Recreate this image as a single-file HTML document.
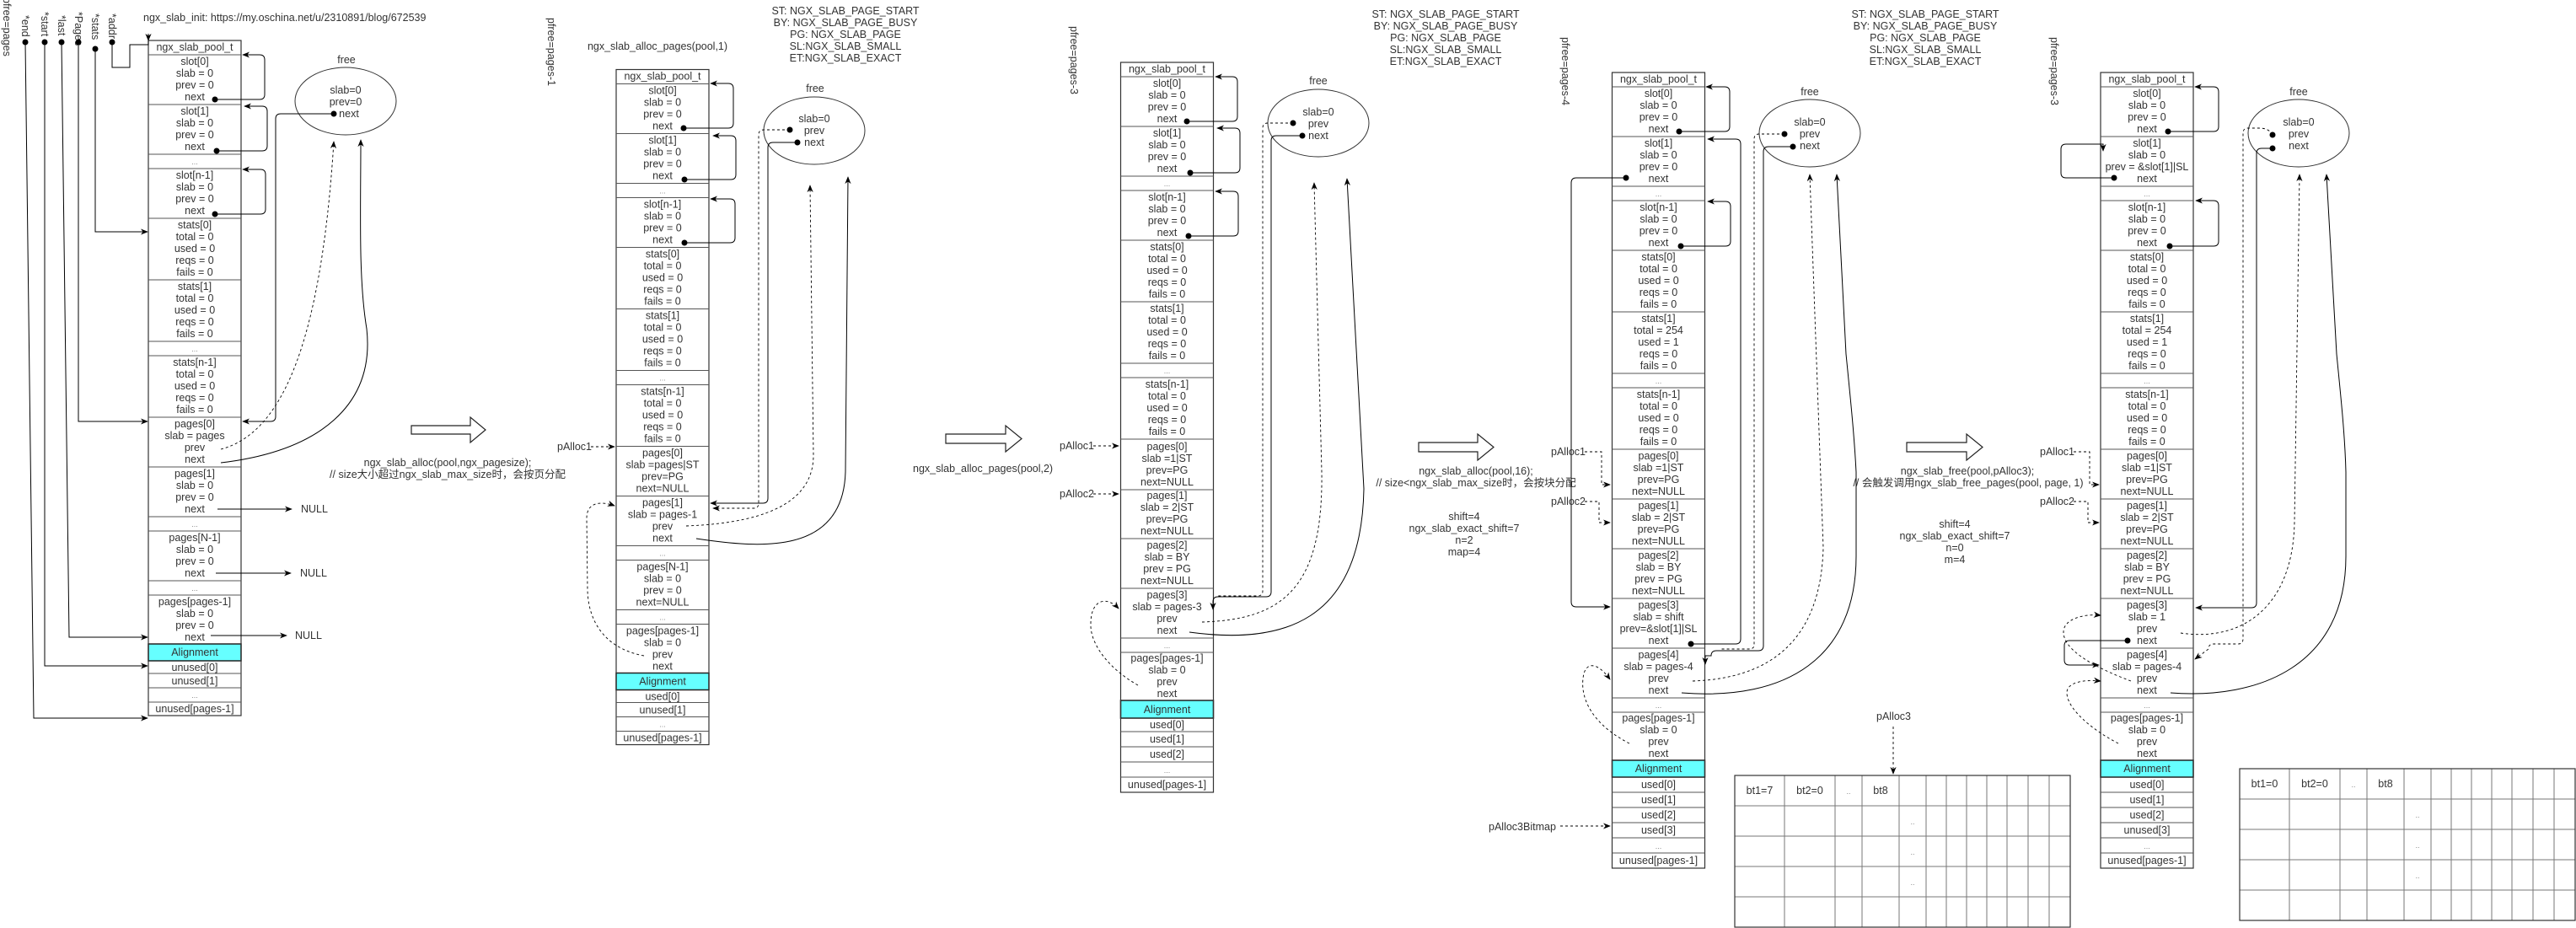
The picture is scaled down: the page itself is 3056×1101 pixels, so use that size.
<!DOCTYPE html>
<html><head><meta charset="utf-8"><style>
html,body{margin:0;padding:0;background:#fff;}
svg{display:block;}
.t{font-family:"Liberation Sans","Noto Sans CJK SC",sans-serif;font-size:12.5px;fill:#333;text-anchor:middle;}
.l{font-family:"Liberation Sans","Noto Sans CJK SC",sans-serif;font-size:12.5px;fill:#333;}
.d{font-family:"Liberation Sans",sans-serif;font-size:9px;fill:#888;text-anchor:middle;}
.c{fill:none;stroke:#000;stroke-width:1;}
.ds{fill:none;stroke:#000;stroke-width:0.9;stroke-dasharray:3 3;}
.rl{fill:none;stroke:#555;stroke-width:1;}
.tb{fill:none;stroke:#777;stroke-width:1;}
</style></head><body>
<svg width="3056" height="1101" viewBox="0 0 3056 1101" xmlns="http://www.w3.org/2000/svg">
<defs>
<marker id="a" viewBox="0 0 10 10" refX="9" refY="5" markerWidth="9" markerHeight="9" markerUnits="userSpaceOnUse" orient="auto"><path d="M0,1 L10,5 L0,9 L3,5z" fill="#000"/></marker>
</defs>
<rect width="3056" height="1101" fill="#fff"/>

<!-- ============ COLUMN 1 ============ -->
<g transform="translate(176,0)">
<rect x="0" y="764" width="110" height="20" fill="#66ffff" stroke="#222" stroke-width="1.5"/>
<rect x="0" y="48" width="110" height="801" fill="none" stroke="#333" stroke-width="1.2"/>
<path class="rl" d="M0,65H110M0,124H110M0,183H110M0,200H110M0,259H110M0,332H110M0,405H110M0,422H110M0,495H110M0,554H110M0,613H110M0,630H110M0,689H110M0,706H110M0,799H110M0,816H110M0,833H110"/>
<text class="t" x="55" y="60">ngx_slab_pool_t</text>
<text class="t" y="77"><tspan x="55">slot[0]</tspan><tspan x="55" dy="14">slab  = 0</tspan><tspan x="55" dy="14">prev = 0</tspan><tspan x="55" dy="14">next</tspan></text>
<text class="t" y="136"><tspan x="55">slot[1]</tspan><tspan x="55" dy="14">slab  = 0</tspan><tspan x="55" dy="14">prev = 0</tspan><tspan x="55" dy="14">next</tspan></text>
<text class="d" x="55" y="195">...</text>
<text class="t" y="212"><tspan x="55">slot[n-1]</tspan><tspan x="55" dy="14">slab  = 0</tspan><tspan x="55" dy="14">prev = 0</tspan><tspan x="55" dy="14">next</tspan></text>
<text class="t" y="271"><tspan x="55">stats[0]</tspan><tspan x="55" dy="14">total = 0</tspan><tspan x="55" dy="14">used = 0</tspan><tspan x="55" dy="14">reqs = 0</tspan><tspan x="55" dy="14">fails = 0</tspan></text>
<text class="t" y="344"><tspan x="55">stats[1]</tspan><tspan x="55" dy="14">total = 0</tspan><tspan x="55" dy="14">used = 0</tspan><tspan x="55" dy="14">reqs = 0</tspan><tspan x="55" dy="14">fails = 0</tspan></text>
<text class="d" x="55" y="417">...</text>
<text class="t" y="434"><tspan x="55">stats[n-1]</tspan><tspan x="55" dy="14">total = 0</tspan><tspan x="55" dy="14">used = 0</tspan><tspan x="55" dy="14">reqs = 0</tspan><tspan x="55" dy="14">fails = 0</tspan></text>
<text class="t" y="507"><tspan x="55">pages[0]</tspan><tspan x="55" dy="14">slab  = pages</tspan><tspan x="55" dy="14">prev</tspan><tspan x="55" dy="14">next</tspan></text>
<text class="t" y="566"><tspan x="55">pages[1]</tspan><tspan x="55" dy="14">slab  = 0</tspan><tspan x="55" dy="14">prev = 0</tspan><tspan x="55" dy="14">next</tspan></text>
<text class="d" x="55" y="625">...</text>
<text class="t" y="642"><tspan x="55">pages[N-1]</tspan><tspan x="55" dy="14">slab  = 0</tspan><tspan x="55" dy="14">prev = 0</tspan><tspan x="55" dy="14">next</tspan></text>
<text class="d" x="55" y="701">...</text>
<text class="t" y="718"><tspan x="55">pages[pages-1]</tspan><tspan x="55" dy="14">slab  = 0</tspan><tspan x="55" dy="14">prev = 0</tspan><tspan x="55" dy="14">next</tspan></text>
<text class="t" x="55" y="778">Alignment</text>
<text class="t" x="55" y="796">unused[0]</text>
<text class="t" x="55" y="812">unused[1]</text>
<text class="d" x="55" y="828">...</text>
<text class="t" x="55" y="845">unused[pages-1]</text>
</g>
<text class="l" x="170" y="25">ngx_slab_init: https://my.oschina.net/u/2310891/blog/672539</text>
<text class="l" transform="translate(4,-3) rotate(90)">pfree=pages</text>
<text class="l" transform="translate(26,18) rotate(90)">*end</text>
<text class="l" transform="translate(49,14) rotate(90)">*start</text>
<text class="l" transform="translate(69,18) rotate(90)">*last</text>
<text class="l" transform="translate(89,14) rotate(90)">*Pages</text>
<text class="l" transform="translate(109,16) rotate(90)">*stats</text>
<text class="l" transform="translate(129,16) rotate(90)">*addr</text>
<g fill="#000"><circle cx="30" cy="50" r="3.5"/><circle cx="53" cy="50" r="3.5"/><circle cx="73" cy="50" r="3.5"/><circle cx="93" cy="50" r="3.5"/><circle cx="113" cy="58" r="3.5"/><circle cx="133" cy="50" r="3.5"/></g>
<path class="c" d="M133,50V80H154V53H176V40" />
<path class="c" d="M176,40V48" marker-end="url(#a)"/>
<path class="c" d="M113,58V275H175" marker-end="url(#a)"/>
<path class="c" d="M93,50V500H175" marker-end="url(#a)"/>
<path class="c" d="M73,50L82,756H175" marker-end="url(#a)"/>
<path class="c" d="M53,50V790H175" marker-end="url(#a)"/>
<path class="c" d="M30,50L40,852H175" marker-end="url(#a)"/>
<g fill="#000"><circle cx="255" cy="118" r="3.5"/><circle cx="257" cy="179" r="3.5"/><circle cx="255" cy="254" r="3.5"/><circle cx="396" cy="135" r="3.5"/></g>
<path class="c" d="M255,118H308Q314,118 314,112V71Q314,65 308,65H288" marker-end="url(#a)"/>
<path class="c" d="M257,179H311Q317,179 317,173V132Q317,126 311,126H290" marker-end="url(#a)"/>
<path class="c" d="M255,254H309Q315,254 315,248V207Q315,201 309,201H288" marker-end="url(#a)"/>
<ellipse cx="410" cy="120" rx="60" ry="40" fill="none" stroke="#333"/>
<text class="t" x="411" y="75">free</text>
<text class="t" y="111"><tspan x="410">slab=0</tspan><tspan x="410" dy="14">prev=0</tspan><tspan x="414" dy="14">next</tspan></text>
<path class="c" d="M396,135H333Q327,135 327,141V494Q327,500 321,500H288" marker-end="url(#a)"/>
<path class="ds" d="M262,533C330,515 380,420 396,168" marker-end="url(#a)"/>
<path class="c" d="M262,549C380,535 445,480 435,390C425,330 428,250 428,166" marker-end="url(#a)"/>
<path class="c" d="M258,604H346" marker-end="url(#a)"/><text class="l" x="357" y="608">NULL</text>
<path class="c" d="M256,680H345" marker-end="url(#a)"/><text class="l" x="356" y="684">NULL</text>
<path class="c" d="M250,754H340" marker-end="url(#a)"/><text class="l" x="350" y="758">NULL</text>

<g fill="#fff" stroke="#222" stroke-width="1.2">
<polygon points="488,505 558,505 558,495 576,510 558,525 558,515 488,515"/>
<polygon points="1122,515 1193,515 1193,505 1212,520.5 1193,536 1193,526 1122,526"/>
<polygon points="1683,525 1753,525 1753,515 1772,530.5 1753,546 1753,536 1683,536"/>
<polygon points="2262,525 2333,525 2333,515 2352,530.5 2333,546 2333,536 2262,536"/>
</g>
<text class="t" x="531" y="553">ngx_slab_alloc(pool,ngx_pagesize);</text>
<text class="t" x="531" y="567">// size大小超过ngx_slab_max_size时，会按页分配</text>

<!-- ============ COLUMN 2 ============ -->
<g transform="translate(731,34.5)">
<rect x="0" y="764" width="110" height="20" fill="#66ffff" stroke="#222" stroke-width="1.5"/>
<rect x="0" y="48" width="110" height="801" fill="none" stroke="#333" stroke-width="1.2"/>
<path class="rl" d="M0,65H110M0,124H110M0,183H110M0,200H110M0,259H110M0,332H110M0,405H110M0,422H110M0,495H110M0,554H110M0,613H110M0,630H110M0,689H110M0,706H110M0,799H110M0,816H110M0,833H110"/>
<text class="t" x="55" y="60">ngx_slab_pool_t</text>
<text class="t" y="77"><tspan x="55">slot[0]</tspan><tspan x="55" dy="14">slab  = 0</tspan><tspan x="55" dy="14">prev = 0</tspan><tspan x="55" dy="14">next</tspan></text>
<text class="t" y="136"><tspan x="55">slot[1]</tspan><tspan x="55" dy="14">slab  = 0</tspan><tspan x="55" dy="14">prev = 0</tspan><tspan x="55" dy="14">next</tspan></text>
<text class="d" x="55" y="195">...</text>
<text class="t" y="212"><tspan x="55">slot[n-1]</tspan><tspan x="55" dy="14">slab  = 0</tspan><tspan x="55" dy="14">prev = 0</tspan><tspan x="55" dy="14">next</tspan></text>
<text class="t" y="271"><tspan x="55">stats[0]</tspan><tspan x="55" dy="14">total = 0</tspan><tspan x="55" dy="14">used = 0</tspan><tspan x="55" dy="14">reqs = 0</tspan><tspan x="55" dy="14">fails = 0</tspan></text>
<text class="t" y="344"><tspan x="55">stats[1]</tspan><tspan x="55" dy="14">total = 0</tspan><tspan x="55" dy="14">used = 0</tspan><tspan x="55" dy="14">reqs = 0</tspan><tspan x="55" dy="14">fails = 0</tspan></text>
<text class="d" x="55" y="417">...</text>
<text class="t" y="434"><tspan x="55">stats[n-1]</tspan><tspan x="55" dy="14">total = 0</tspan><tspan x="55" dy="14">used = 0</tspan><tspan x="55" dy="14">reqs = 0</tspan><tspan x="55" dy="14">fails = 0</tspan></text>
<text class="t" y="507"><tspan x="55">pages[0]</tspan><tspan x="55" dy="14">slab =pages|ST</tspan><tspan x="55" dy="14">prev=PG</tspan><tspan x="55" dy="14">next=NULL</tspan></text>
<text class="t" y="566"><tspan x="55">pages[1]</tspan><tspan x="55" dy="14">slab  = pages-1</tspan><tspan x="55" dy="14">prev</tspan><tspan x="55" dy="14">next</tspan></text>
<text class="d" x="55" y="625">...</text>
<text class="t" y="642"><tspan x="55">pages[N-1]</tspan><tspan x="55" dy="14">slab  = 0</tspan><tspan x="55" dy="14">prev = 0</tspan><tspan x="55" dy="14">next=NULL</tspan></text>
<text class="d" x="55" y="701">...</text>
<text class="t" y="718"><tspan x="55">pages[pages-1]</tspan><tspan x="55" dy="14">slab  = 0</tspan><tspan x="55" dy="14">prev</tspan><tspan x="55" dy="14">next</tspan></text>
<text class="t" x="55" y="778">Alignment</text>
<text class="t" x="55" y="796">used[0]</text>
<text class="t" x="55" y="812">unused[1]</text>
<text class="d" x="55" y="828">...</text>
<text class="t" x="55" y="845">unused[pages-1]</text>
</g>
<text class="t" x="780" y="59">ngx_slab_alloc_pages(pool,1)</text>
<text class="l" transform="translate(650,21) rotate(90)">pfree=pages-1</text>
<text class="t" y="17"><tspan x="1003">ST: NGX_SLAB_PAGE_START</tspan><tspan x="1003" dy="14">BY: NGX_SLAB_PAGE_BUSY</tspan><tspan x="1003" dy="14">PG: NGX_SLAB_PAGE</tspan><tspan x="1003" dy="14">SL:NGX_SLAB_SMALL</tspan><tspan x="1003" dy="14">ET:NGX_SLAB_EXACT</tspan></text>
<g fill="#000"><circle cx="811" cy="152" r="3.5"/><circle cx="812" cy="213" r="3.5"/><circle cx="812" cy="288" r="3.5"/><circle cx="937" cy="154" r="3.5"/><circle cx="946" cy="169" r="3.5"/></g>
<path class="c" d="M811,152H864Q870,152 870,146V105Q870,99 864,99H843" marker-end="url(#a)"/>
<path class="c" d="M812,213H867Q873,213 873,207V167Q873,161 867,161H846" marker-end="url(#a)"/>
<path class="c" d="M812,288H866Q872,288 872,282V242Q872,236 866,236H843" marker-end="url(#a)"/>
<ellipse cx="966" cy="155" rx="60" ry="40" fill="none" stroke="#333"/>
<text class="t" x="967" y="109">free</text>
<text class="t" y="145"><tspan x="966">slab=0</tspan><tspan x="966" dy="14">prev</tspan><tspan x="966" dy="14">next</tspan></text>
<path class="ds" d="M937,154H906Q900,154 900,160V597Q900,603 894,603H846" marker-end="url(#a)"/>
<path class="c" d="M946,169H917Q911,169 911,175V591Q911,597 905,597H843" marker-end="url(#a)"/>
<path class="ds" d="M814,624C920,620 965,590 965,540L961,220" marker-end="url(#a)"/>
<path class="c" d="M826,639C900,650 1000,660 1003,560L1006,210" marker-end="url(#a)"/>
<path class="ds" d="M764,778C720,770 698,740 697,700L696,615C696,596 712,594 729,600" marker-end="url(#a)"/>
<text class="l" x="661" y="534">pAlloc1</text>
<path class="ds" d="M701,530H729" marker-end="url(#a)"/>
<text class="l" x="1083" y="560">ngx_slab_alloc_pages(pool,2)</text>

<!-- ============ COLUMN 3 ============ -->
<g transform="translate(1329.5,26)">
<rect x="0" y="805" width="110" height="21" fill="#66ffff" stroke="#222" stroke-width="1.5"/>
<rect x="0" y="48" width="110" height="866" fill="none" stroke="#333" stroke-width="1.2"/>
<path class="rl" d="M0,65H110M0,124H110M0,183H110M0,200H110M0,259H110M0,332H110M0,405H110M0,422H110M0,495H110M0,555H110M0,613H110M0,672H110M0,731H110M0,748H110M0,842H110M0,860H110M0,878H110M0,896H110"/>
<text class="t" x="55" y="60">ngx_slab_pool_t</text>
<text class="t" y="77"><tspan x="55">slot[0]</tspan><tspan x="55" dy="14">slab  = 0</tspan><tspan x="55" dy="14">prev = 0</tspan><tspan x="55" dy="14">next</tspan></text>
<text class="t" y="136"><tspan x="55">slot[1]</tspan><tspan x="55" dy="14">slab  = 0</tspan><tspan x="55" dy="14">prev = 0</tspan><tspan x="55" dy="14">next</tspan></text>
<text class="d" x="55" y="195">...</text>
<text class="t" y="212"><tspan x="55">slot[n-1]</tspan><tspan x="55" dy="14">slab  = 0</tspan><tspan x="55" dy="14">prev = 0</tspan><tspan x="55" dy="14">next</tspan></text>
<text class="t" y="271"><tspan x="55">stats[0]</tspan><tspan x="55" dy="14">total = 0</tspan><tspan x="55" dy="14">used = 0</tspan><tspan x="55" dy="14">reqs = 0</tspan><tspan x="55" dy="14">fails = 0</tspan></text>
<text class="t" y="344"><tspan x="55">stats[1]</tspan><tspan x="55" dy="14">total = 0</tspan><tspan x="55" dy="14">used = 0</tspan><tspan x="55" dy="14">reqs = 0</tspan><tspan x="55" dy="14">fails = 0</tspan></text>
<text class="d" x="55" y="417">...</text>
<text class="t" y="434"><tspan x="55">stats[n-1]</tspan><tspan x="55" dy="14">total = 0</tspan><tspan x="55" dy="14">used = 0</tspan><tspan x="55" dy="14">reqs = 0</tspan><tspan x="55" dy="14">fails = 0</tspan></text>
<text class="t" y="508"><tspan x="55">pages[0]</tspan><tspan x="55" dy="14">slab =1|ST</tspan><tspan x="55" dy="14">prev=PG</tspan><tspan x="55" dy="14">next=NULL</tspan></text>
<text class="t" y="566"><tspan x="55">pages[1]</tspan><tspan x="55" dy="14">slab  = 2|ST</tspan><tspan x="55" dy="14">prev=PG</tspan><tspan x="55" dy="14">next=NULL</tspan></text>
<text class="t" y="625"><tspan x="55">pages[2]</tspan><tspan x="55" dy="14">slab  = BY</tspan><tspan x="55" dy="14">prev = PG</tspan><tspan x="55" dy="14">next=NULL</tspan></text>
<text class="t" y="684"><tspan x="55">pages[3]</tspan><tspan x="55" dy="14">slab  = pages-3</tspan><tspan x="55" dy="14">prev</tspan><tspan x="55" dy="14">next</tspan></text>
<text class="d" x="55" y="743">...</text>
<text class="t" y="759"><tspan x="55">pages[pages-1]</tspan><tspan x="55" dy="14">slab  = 0</tspan><tspan x="55" dy="14">prev</tspan><tspan x="55" dy="14">next</tspan></text>
<text class="t" x="55" y="820">Alignment</text>
<text class="t" x="55" y="838">used[0]</text>
<text class="t" x="55" y="855">used[1]</text>
<text class="t" x="55" y="873">used[2]</text>
<text class="d" x="55" y="891">...</text>
<text class="t" x="55" y="909">unused[pages-1]</text>
</g>
<text class="l" transform="translate(1270,31) rotate(90)">pfree=pages-3</text>
<text class="t" y="21"><tspan x="1715">ST: NGX_SLAB_PAGE_START</tspan><tspan x="1715" dy="14">BY: NGX_SLAB_PAGE_BUSY</tspan><tspan x="1715" dy="14">PG: NGX_SLAB_PAGE</tspan><tspan x="1715" dy="14">SL:NGX_SLAB_SMALL</tspan><tspan x="1715" dy="14">ET:NGX_SLAB_EXACT</tspan></text>
<g fill="#000"><circle cx="1408" cy="144" r="3.5"/><circle cx="1412" cy="205" r="3.5"/><circle cx="1410" cy="280" r="3.5"/><circle cx="1534" cy="146" r="3.5"/><circle cx="1545" cy="161" r="3.5"/></g>
<path class="c" d="M1408,144H1462Q1468,144 1468,138V97Q1468,91 1462,91H1442" marker-end="url(#a)"/>
<path class="c" d="M1412,205H1465Q1471,205 1471,199V158Q1471,152 1465,152H1444" marker-end="url(#a)"/>
<path class="c" d="M1410,280H1463Q1469,280 1469,274V233Q1469,227 1463,227H1442" marker-end="url(#a)"/>
<ellipse cx="1564" cy="146" rx="60" ry="40" fill="none" stroke="#333"/>
<text class="t" x="1564" y="100">free</text>
<text class="t" y="137"><tspan x="1564">slab=0</tspan><tspan x="1564" dy="14">prev</tspan><tspan x="1564" dy="14">next</tspan></text>
<path class="ds" d="M1534,146H1504Q1498,146 1498,152V701Q1498,707 1492,707H1445"/>
<path class="c" d="M1545,161H1514Q1508,161 1508,167V702Q1508,708 1502,708H1445Q1439,708 1439,714V723" marker-end="url(#a)"/>
<path class="ds" d="M1426,738C1520,735 1570,700 1568,560L1559,217" marker-end="url(#a)"/>
<path class="c" d="M1411,750C1520,765 1615,740 1618,580L1598,212" marker-end="url(#a)"/>
<path class="ds" d="M1350,813C1310,790 1293,760 1294,740C1294,712 1312,706 1327,722" marker-end="url(#a)"/>
<text class="l" x="1257" y="533">pAlloc1</text>
<path class="ds" d="M1297,529H1327" marker-end="url(#a)"/>
<text class="l" x="1257" y="590">pAlloc2</text>
<path class="ds" d="M1297,586H1327" marker-end="url(#a)"/>
<text class="t" x="1751" y="563">ngx_slab_alloc(pool,16);</text>
<text class="t" x="1751" y="577">// size&lt;ngx_slab_max_size时，会按块分配</text>
<text class="t" y="617"><tspan x="1737">shift=4</tspan><tspan x="1737" dy="14">ngx_slab_exact_shift=7</tspan><tspan x="1737" dy="14">n=2</tspan><tspan x="1737" dy="14">map=4</tspan></text>

<!-- ============ COLUMN 4 ============ -->
<g transform="translate(1912.5,38)">
<rect x="0" y="864" width="110" height="20" fill="#66ffff" stroke="#222" stroke-width="1.5"/>
<rect x="0" y="48" width="110" height="944" fill="none" stroke="#333" stroke-width="1.2"/>
<path class="rl" d="M0,65H110M0,124H110M0,183H110M0,200H110M0,259H110M0,332H110M0,405H110M0,422H110M0,495H110M0,554H110M0,613H110M0,672H110M0,731H110M0,790H110M0,807H110M0,902H110M0,920H110M0,938H110M0,956H110M0,974H110"/>
<text class="t" x="55" y="60">ngx_slab_pool_t</text>
<text class="t" y="77"><tspan x="55">slot[0]</tspan><tspan x="55" dy="14">slab  = 0</tspan><tspan x="55" dy="14">prev = 0</tspan><tspan x="55" dy="14">next</tspan></text>
<text class="t" y="136"><tspan x="55">slot[1]</tspan><tspan x="55" dy="14">slab  = 0</tspan><tspan x="55" dy="14">prev = 0</tspan><tspan x="55" dy="14">next</tspan></text>
<text class="d" x="55" y="195">...</text>
<text class="t" y="212"><tspan x="55">slot[n-1]</tspan><tspan x="55" dy="14">slab  = 0</tspan><tspan x="55" dy="14">prev = 0</tspan><tspan x="55" dy="14">next</tspan></text>
<text class="t" y="271"><tspan x="55">stats[0]</tspan><tspan x="55" dy="14">total = 0</tspan><tspan x="55" dy="14">used = 0</tspan><tspan x="55" dy="14">reqs = 0</tspan><tspan x="55" dy="14">fails = 0</tspan></text>
<text class="t" y="344"><tspan x="55">stats[1]</tspan><tspan x="55" dy="14">total = 254</tspan><tspan x="55" dy="14">used = 1</tspan><tspan x="55" dy="14">reqs = 0</tspan><tspan x="55" dy="14">fails = 0</tspan></text>
<text class="d" x="55" y="417">...</text>
<text class="t" y="434"><tspan x="55">stats[n-1]</tspan><tspan x="55" dy="14">total = 0</tspan><tspan x="55" dy="14">used = 0</tspan><tspan x="55" dy="14">reqs = 0</tspan><tspan x="55" dy="14">fails = 0</tspan></text>
<text class="t" y="507"><tspan x="55">pages[0]</tspan><tspan x="55" dy="14">slab =1|ST</tspan><tspan x="55" dy="14">prev=PG</tspan><tspan x="55" dy="14">next=NULL</tspan></text>
<text class="t" y="566"><tspan x="55">pages[1]</tspan><tspan x="55" dy="14">slab  = 2|ST</tspan><tspan x="55" dy="14">prev=PG</tspan><tspan x="55" dy="14">next=NULL</tspan></text>
<text class="t" y="625"><tspan x="55">pages[2]</tspan><tspan x="55" dy="14">slab  = BY</tspan><tspan x="55" dy="14">prev = PG</tspan><tspan x="55" dy="14">next=NULL</tspan></text>
<text class="t" y="684"><tspan x="55">pages[3]</tspan><tspan x="55" dy="14">slab  = shift</tspan><tspan x="55" dy="14">prev=&amp;slot[1]|SL</tspan><tspan x="55" dy="14">next</tspan></text>
<text class="t" y="743"><tspan x="55">pages[4]</tspan><tspan x="55" dy="14">slab  = pages-4</tspan><tspan x="55" dy="14">prev</tspan><tspan x="55" dy="14">next</tspan></text>
<text class="d" x="55" y="802">...</text>
<text class="t" y="818"><tspan x="55">pages[pages-1]</tspan><tspan x="55" dy="14">slab  = 0</tspan><tspan x="55" dy="14">prev</tspan><tspan x="55" dy="14">next</tspan></text>
<text class="t" x="55" y="878">Alignment</text>
<text class="t" x="55" y="897">used[0]</text>
<text class="t" x="55" y="915">used[1]</text>
<text class="t" x="55" y="933">used[2]</text>
<text class="t" x="55" y="951">used[3]</text>
<text class="d" x="55" y="969">...</text>
<text class="t" x="55" y="987">unused[pages-1]</text>
</g>
<text class="l" transform="translate(1853,44) rotate(90)">pfree=pages-4</text>
<text class="t" y="21"><tspan x="2284">ST: NGX_SLAB_PAGE_START</tspan><tspan x="2284" dy="14">BY: NGX_SLAB_PAGE_BUSY</tspan><tspan x="2284" dy="14">PG: NGX_SLAB_PAGE</tspan><tspan x="2284" dy="14">SL:NGX_SLAB_SMALL</tspan><tspan x="2284" dy="14">ET:NGX_SLAB_EXACT</tspan></text>
<g fill="#000"><circle cx="1992" cy="156" r="3.5"/><circle cx="1929" cy="211" r="3.5"/><circle cx="1994" cy="292" r="3.5"/><circle cx="2006" cy="764" r="3.5"/><circle cx="2117" cy="159" r="3.5"/><circle cx="2127" cy="174" r="3.5"/></g>
<path class="c" d="M1992,156H2046Q2052,156 2052,150V109Q2052,103 2046,103H2024" marker-end="url(#a)"/>
<path class="c" d="M2006,764H2059Q2065,764 2065,758V171Q2065,165 2059,165H2026" marker-end="url(#a)"/>
<path class="c" d="M1994,292H2047Q2053,292 2053,286V245Q2053,239 2047,239H2026" marker-end="url(#a)"/>
<path class="c" d="M1929,211H1870Q1864,211 1864,217V714Q1864,720 1870,720H1910" marker-end="url(#a)"/>
<ellipse cx="2147" cy="158" rx="60" ry="40" fill="none" stroke="#333"/>
<text class="t" x="2147" y="113">free</text>
<text class="t" y="149"><tspan x="2147">slab=0</tspan><tspan x="2147" dy="14">prev</tspan><tspan x="2147" dy="14">next</tspan></text>
<path class="ds" d="M2117,159H2087Q2081,159 2081,165V765Q2081,770 2075,770H2040"/>
<path class="c" d="M2127,174H2098Q2092,174 2092,180V766Q2092,772 2086,772H2036Q2030,772 2030,778H2023V788" marker-end="url(#a)"/>
<path class="ds" d="M2008,808C2100,805 2160,760 2163,650L2147,207" marker-end="url(#a)"/>
<path class="c" d="M1995,822C2120,832 2202,780 2202,660L2202,560C2200,520 2196,480 2190,420L2179,207" marker-end="url(#a)"/>
<path class="ds" d="M1933,882C1890,860 1875,830 1878,805C1880,784 1895,785 1910,806" marker-end="url(#a)"/>
<text class="l" x="1840" y="540">pAlloc1</text>
<path class="ds" d="M1880,536H1900V575H1910" marker-end="url(#a)"/>
<text class="l" x="1840" y="599">pAlloc2</text>
<path class="ds" d="M1880,595H1897V620H1910" marker-end="url(#a)"/>
<text class="l" x="2226" y="854">pAlloc3</text>
<path class="ds" d="M2246,862V918" marker-end="url(#a)"/>
<text class="l" x="1766" y="985">pAlloc3Bitmap</text>
<path class="ds" d="M1851,980H1910" marker-end="url(#a)"/>
<text class="t" x="2334" y="563">ngx_slab_free(pool,pAlloc3);</text>
<text class="t" x="2335" y="577">// 会触发调用ngx_slab_free_pages(pool, page, 1)</text>
<text class="t" y="626"><tspan x="2319">shift=4</tspan><tspan x="2319" dy="14">ngx_slab_exact_shift=7</tspan><tspan x="2319" dy="14">n=0</tspan><tspan x="2319" dy="14">m=4</tspan></text>

<g transform="translate(2058,920)">
<path class="tb" d="M59,0V180M119,0V180M151,0V180M195,0V180M227,0V180M251,0V180M275,0V180M299,0V180M323,0V180M348,0V180M373,0V180M0,36H398M0,72H398M0,108H398M0,144H398"/>
<rect x="0" y="0" width="398" height="180" fill="none" stroke="#333" stroke-width="1.2"/>
<text class="t" x="29.5" y="22">bt1=7</text><text class="t" x="89" y="22">bt2=0</text><text class="d" x="135" y="22">..</text><text class="t" x="173" y="22">bt8</text>
<text class="d" x="211" y="58">..</text><text class="d" x="211" y="94">..</text><text class="d" x="211" y="130">..</text>
</g>

<!-- ============ COLUMN 5 ============ -->
<g transform="translate(2492,38)">
<rect x="0" y="864" width="110" height="20" fill="#66ffff" stroke="#222" stroke-width="1.5"/>
<rect x="0" y="48" width="110" height="944" fill="none" stroke="#333" stroke-width="1.2"/>
<path class="rl" d="M0,65H110M0,124H110M0,183H110M0,200H110M0,259H110M0,332H110M0,405H110M0,422H110M0,495H110M0,554H110M0,613H110M0,672H110M0,731H110M0,790H110M0,807H110M0,902H110M0,920H110M0,938H110M0,956H110M0,974H110"/>
<text class="t" x="55" y="60">ngx_slab_pool_t</text>
<text class="t" y="77"><tspan x="55">slot[0]</tspan><tspan x="55" dy="14">slab  = 0</tspan><tspan x="55" dy="14">prev = 0</tspan><tspan x="55" dy="14">next</tspan></text>
<text class="t" y="136"><tspan x="55">slot[1]</tspan><tspan x="55" dy="14">slab  = 0</tspan><tspan x="55" dy="14">prev = &amp;slot[1]|SL</tspan><tspan x="55" dy="14">next</tspan></text>
<text class="d" x="55" y="195">...</text>
<text class="t" y="212"><tspan x="55">slot[n-1]</tspan><tspan x="55" dy="14">slab  = 0</tspan><tspan x="55" dy="14">prev = 0</tspan><tspan x="55" dy="14">next</tspan></text>
<text class="t" y="271"><tspan x="55">stats[0]</tspan><tspan x="55" dy="14">total = 0</tspan><tspan x="55" dy="14">used = 0</tspan><tspan x="55" dy="14">reqs = 0</tspan><tspan x="55" dy="14">fails = 0</tspan></text>
<text class="t" y="344"><tspan x="55">stats[1]</tspan><tspan x="55" dy="14">total = 254</tspan><tspan x="55" dy="14">used = 1</tspan><tspan x="55" dy="14">reqs = 0</tspan><tspan x="55" dy="14">fails = 0</tspan></text>
<text class="d" x="55" y="417">...</text>
<text class="t" y="434"><tspan x="55">stats[n-1]</tspan><tspan x="55" dy="14">total = 0</tspan><tspan x="55" dy="14">used = 0</tspan><tspan x="55" dy="14">reqs = 0</tspan><tspan x="55" dy="14">fails = 0</tspan></text>
<text class="t" y="507"><tspan x="55">pages[0]</tspan><tspan x="55" dy="14">slab =1|ST</tspan><tspan x="55" dy="14">prev=PG</tspan><tspan x="55" dy="14">next=NULL</tspan></text>
<text class="t" y="566"><tspan x="55">pages[1]</tspan><tspan x="55" dy="14">slab  = 2|ST</tspan><tspan x="55" dy="14">prev=PG</tspan><tspan x="55" dy="14">next=NULL</tspan></text>
<text class="t" y="625"><tspan x="55">pages[2]</tspan><tspan x="55" dy="14">slab  = BY</tspan><tspan x="55" dy="14">prev = PG</tspan><tspan x="55" dy="14">next=NULL</tspan></text>
<text class="t" y="684"><tspan x="55">pages[3]</tspan><tspan x="55" dy="14">slab  = 1</tspan><tspan x="55" dy="14">prev</tspan><tspan x="55" dy="14">next</tspan></text>
<text class="t" y="743"><tspan x="55">pages[4]</tspan><tspan x="55" dy="14">slab  = pages-4</tspan><tspan x="55" dy="14">prev</tspan><tspan x="55" dy="14">next</tspan></text>
<text class="d" x="55" y="802">...</text>
<text class="t" y="818"><tspan x="55">pages[pages-1]</tspan><tspan x="55" dy="14">slab  = 0</tspan><tspan x="55" dy="14">prev</tspan><tspan x="55" dy="14">next</tspan></text>
<text class="t" x="55" y="878">Alignment</text>
<text class="t" x="55" y="897">used[0]</text>
<text class="t" x="55" y="915">used[1]</text>
<text class="t" x="55" y="933">used[2]</text>
<text class="t" x="55" y="951">unused[3]</text>
<text class="d" x="55" y="969">...</text>
<text class="t" x="55" y="987">unused[pages-1]</text>
</g>
<text class="l" transform="translate(2433,44) rotate(90)">pfree=pages-3</text>
<g fill="#000"><circle cx="2572" cy="156" r="3.5"/><circle cx="2508" cy="211" r="3.5"/><circle cx="2574" cy="292" r="3.5"/><circle cx="2524" cy="760" r="3.5"/><circle cx="2696" cy="160" r="3.5"/><circle cx="2696" cy="176" r="3.5"/></g>
<path class="c" d="M2572,156H2626Q2632,156 2632,150V109Q2632,103 2626,103H2604" marker-end="url(#a)"/>
<path class="c" d="M2508,211H2451Q2445,211 2445,205V177Q2445,171 2451,171H2495V179" marker-end="url(#a)"/>
<path class="c" d="M2574,292H2626Q2632,292 2632,286V244Q2632,238 2626,238H2605" marker-end="url(#a)"/>
<ellipse cx="2727" cy="158" rx="60" ry="40" fill="none" stroke="#333"/>
<text class="t" x="2727" y="113">free</text>
<text class="t" y="149"><tspan x="2727">slab=0</tspan><tspan x="2727" dy="14">prev</tspan><tspan x="2727" dy="14">next</tspan></text>
<path class="ds" d="M2696,160Q2692,152 2680,152H2667Q2661,152 2661,158V758Q2661,764 2655,764H2626Q2620,764 2620,770L2604,782" marker-end="url(#a)"/>
<path class="c" d="M2696,176H2683Q2677,176 2677,182V715Q2677,721 2671,721H2605" marker-end="url(#a)"/>
<path class="c" d="M2524,760H2455Q2449,760 2449,766V783Q2449,789 2455,789H2490" marker-end="url(#a)"/>
<path class="ds" d="M2528,808C2480,790 2448,770 2448,750C2448,735 2470,728 2492,730" marker-end="url(#a)"/>
<path class="ds" d="M2513,882C2480,865 2452,840 2452,822C2452,810 2470,806 2492,808" marker-end="url(#a)"/>
<path class="ds" d="M2587,751C2660,762 2720,720 2722,620L2728,207" marker-end="url(#a)"/>
<path class="c" d="M2575,822C2680,830 2783,790 2783,660L2783,560C2782,520 2778,480 2772,420L2760,207" marker-end="url(#a)"/>
<text class="l" x="2420" y="540">pAlloc1</text>
<path class="ds" d="M2460,536H2479V575H2490" marker-end="url(#a)"/>
<text class="l" x="2420" y="599">pAlloc2</text>
<path class="ds" d="M2460,595H2477V620H2490" marker-end="url(#a)"/>

<g transform="translate(2657,912)">
<path class="tb" d="M59,0V180M119,0V180M151,0V180M195,0V180M227,0V180M251,0V180M275,0V180M299,0V180M323,0V180M348,0V180M373,0V180M0,36H398M0,72H398M0,108H398M0,144H398"/>
<rect x="0" y="0" width="398" height="180" fill="none" stroke="#333" stroke-width="1.2"/>
<text class="t" x="29.5" y="22">bt1=0</text><text class="t" x="89" y="22">bt2=0</text><text class="d" x="135" y="22">..</text><text class="t" x="173" y="22">bt8</text>
<text class="d" x="211" y="58">..</text><text class="d" x="211" y="94">..</text><text class="d" x="211" y="130">..</text>
</g>
</svg>
</body></html>
